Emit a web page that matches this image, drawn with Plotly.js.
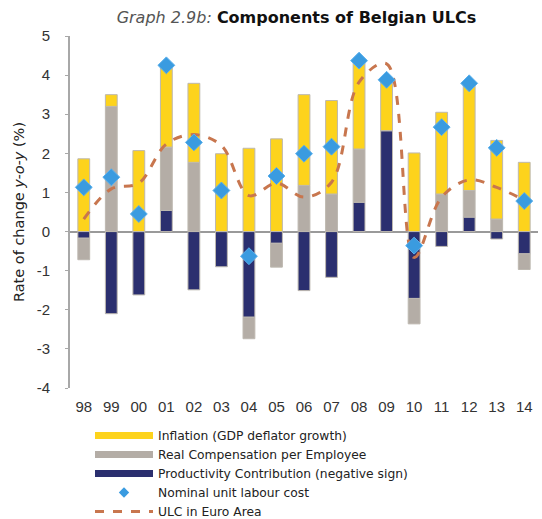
<!DOCTYPE html>
<html>
<head>
<meta charset="utf-8">
<script src="https://cdn.plot.ly/plotly-3.0.1.min.js"></script>
<style>
  html, body { margin: 0; padding: 0; background: #fff; }
  #chart { width: 542px; height: 519px; }
</style>
</head>
<body>
<div id="chart"></div>
<script>
const years = ["98","99","00","01","02","03","04","05","06","07","08","09","10","11","12","13","14"];
const inflation    = [1.86, 0.30, 2.07, 2.09, 2.02, 1.99, 2.13, 2.37, 2.32, 2.39, 2.25, 1.28, 2.01, 2.09, 2.74, 2.01, 1.77];
const realComp     = [-0.55, 3.20, 0.00, 1.62, 1.77, 0.00, -0.55, -0.61, 1.18, 0.96, 1.36, 0.00, -0.65, 0.96, 0.68, 0.32, -0.40];
const productivity = [-0.17, -2.10, -1.62, 0.54, -1.49, -0.90, -2.19, -0.30, -1.51, -1.17, 0.75, 2.58, -1.71, -0.38, 0.37, -0.19, -0.57];
const nominalULC   = [1.13, 1.39, 0.45, 4.25, 2.28, 1.05, -0.63, 1.42, 1.99, 2.17, 4.37, 3.88, -0.36, 2.67, 3.79, 2.14, 0.78];
const ulcEuroArea  = [0.32, 1.09, 1.24, 2.24, 2.48, 2.20, 0.92, 1.24, 0.88, 1.26, 3.82, 4.29, -0.66, 0.88, 1.32, 1.13, 0.80];
const yTickVals    = [5, 4, 3, 2, 1, 0, -1, -2, -3, -4];
const yTickText    = ["5", "4", "3", "2", "1", "0", "-1", "-2", "-3", "-4"];
const seriesNames  = ["Inflation (GDP deflator growth)", "Real Compensation per Employee",
                      "Productivity Contribution (negative sign)", "Nominal unit labour cost", "ULC in Euro Area"];

const cYellow = "#FDD31C", cGrey = "#B4ADA6", cNavy = "#2B2F6F", cBlue = "#3A9BE0", cOrange = "#C8764E";
const barLine = { color: "#BDB8B0", width: 1 };

const traces = [
  { type: "bar", x: years, y: productivity, name: seriesNames[2], marker: { color: cNavy, line: barLine }, showlegend: false, hoverinfo: "y" },
  { type: "bar", x: years, y: realComp, name: seriesNames[1], marker: { color: cGrey, line: barLine }, showlegend: false, hoverinfo: "y" },
  { type: "bar", x: years, y: inflation, name: seriesNames[0], marker: { color: cYellow, line: barLine }, showlegend: false, hoverinfo: "y" },
  // legend-only entries drawn as wide flat bars / small diamond, like the original
  { type: "scatter", mode: "lines", x: [null], y: [null], name: seriesNames[0], line: { color: cYellow, width: 7 }, legendrank: 1 },
  { type: "scatter", mode: "lines", x: [null], y: [null], name: seriesNames[1], line: { color: cGrey, width: 7 }, legendrank: 2 },
  { type: "scatter", mode: "lines", x: [null], y: [null], name: seriesNames[2], line: { color: cNavy, width: 7 }, legendrank: 3 },
  { type: "scatter", mode: "markers", x: [null], y: [null], name: seriesNames[3], marker: { symbol: "diamond", size: 8, color: cBlue }, legendrank: 4 },
  { type: "scatter", mode: "lines", x: years, y: ulcEuroArea, name: seriesNames[4],
    line: { color: cOrange, width: 3, dash: "dash", shape: "spline", smoothing: 1 }, legendrank: 5 },
  { type: "scatter", mode: "markers", x: years, y: nominalULC, name: seriesNames[3], showlegend: false,
    marker: { symbol: "diamond", size: 13, color: cBlue, line: { color: "#5AB0EC", width: 1 } } }
];

const font = "Liberation Sans, Arial, sans-serif";
const wide = "DejaVu Sans, Liberation Sans, sans-serif";

const layout = {
  width: 542, height: 519,
  margin: { l: 70, r: 4, t: 36, b: 131, autoexpand: false },
  paper_bgcolor: "#fff", plot_bgcolor: "#fff",
  font: { family: font, color: "#333", size: 14 },
  barmode: "relative",
  bargap: 0.57,
  title: {
    text: "<span style='color:#555'><i>Graph 2.9b:</i></span> <b>Components of Belgian ULCs</b>",
    font: { family: wide, size: 16, color: "#111" },
    x: 0.547, xanchor: "center", y: 0.967, yanchor: "middle"
  },
  xaxis: {
    type: "category",
    range: [-0.5, 16.5],
    showline: false, showgrid: false, zeroline: false, ticks: "",
    tickfont: { family: font, size: 15, color: "#333" },
    ticklabelstandoff: 8,
    fixedrange: true
  },
  yaxis: {
    range: [-4, 5],
    tickvals: yTickVals, ticktext: yTickText,
    showgrid: false,
    showline: true, linecolor: "#A8A8A8", linewidth: 2,
    ticks: "outside", ticklen: 3, tickcolor: "#A8A8A8",
    zeroline: true, zerolinecolor: "#9A9A9A", zerolinewidth: 2,
    tickfont: { family: font, size: 15, color: "#333" },
    ticklabelstandoff: 12,
    title: { text: "Rate of change <i>y-o-y</i> (%)", font: { family: wide, size: 14.5, color: "#222" }, standoff: 9 },
    fixedrange: true
  },
  legend: {
    x: 20 / 468, xanchor: "left", y: -33 / 352, yanchor: "top",
    orientation: "v", traceorder: "normal",
    itemwidth: 58, tracegroupgap: 0,
    font: { family: wide, size: 12.3, color: "#222" },
    bgcolor: "rgba(0,0,0,0)"
  },
  showlegend: true
};

Plotly.newPlot("chart", traces, layout, { displayModeBar: false, staticPlot: true });
</script>
</body>
</html>
